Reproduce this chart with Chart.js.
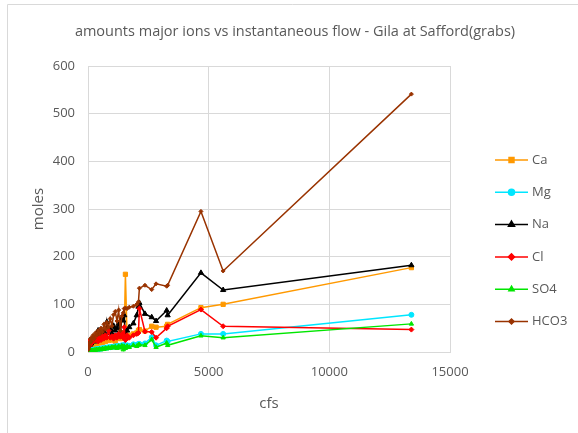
<!DOCTYPE html>
<html>
<head>
<meta charset="utf-8">
<script src="https://cdn.jsdelivr.net/npm/chart.js@4"></script>
<style>
  html, body { margin: 0; padding: 0; background: #fff; }
  #wrap { width: 578px; height: 433px; position: relative; }
</style>
</head>
<body>
<div id="wrap"><canvas id="ionChart" width="578" height="433"></canvas></div>
<script>
// instantaneous flow (cfs) of each grab sample
const cfs = [15, 40, 70, 100, 130, 170, 210, 260, 310, 360, 420, 480, 540, 600, 660, 720, 780, 850, 920, 990,
  1060, 1130, 1200, 1270, 1340, 1400, 1460, 1500, 1550, 1620, 1710, 1880, 2020, 2090, 2130, 2360, 2640, 2820,
  3260, 3300, 4680, 5600, 13400];

// moles per sample
const ca = [2, 5, 8, 10, 12, 14, 15, 16, 18, 17, 20, 19, 22, 20, 24, 22, 26, 24, 28, 25,
  30, 22, 30, 32, 28, 35, 40, 35, 163, 30, 35, 38, 40, 45, 47, 44, 54, 52,
  54, 58, 93, 100, 177];
const mg = [0.5, 1, 2, 3, 3, 4, 4, 5, 5, 6, 6, 7, 7, 8, 8, 9, 9, 10, 10, 11,
  11, 12, 12, 13, 12, 14, 13, 15, 10, 14, 13, 16, 15, 17, 17, 18, 31, 14,
  24, 22, 38, 38, 78];
const na = [3, 8, 15, 20, 18, 25, 28, 22, 30, 26, 45, 32, 38, 30, 42, 35, 63, 40, 48, 38,
  55, 45, 50, 60, 40, 70, 66, 77, 30, 45, 52, 60, 77, 95, 103, 80, 73, 65,
  87, 77, 166, 130, 182];
const cl = [3, 12, 20, 25, 18, 28, 22, 30, 25, 28, 22, 30, 25, 33, 28, 35, 30, 45, 30, 33,
  28, 35, 30, 38, 32, 40, 30, 52, 25, 35, 30, 35, 38, 40, 91, 43, 42, 30,
  50, 54, 89, 54, 47];
const so4 = [0.5, 1, 1.5, 2, 2.5, 3, 3, 4, 4, 5, 5, 6, 5, 7, 6, 8, 7, 9, 8, 10,
  9, 11, 8, 12, 9, 13, 5, 12, 8, 12, 10, 14, 12, 15, 15, 14, 26, 10,
  19, 14, 34, 30, 59];
const hco3 = [5, 12, 20, 28, 22, 30, 35, 28, 40, 35, 45, 38, 50, 42, 58, 48, 62, 52, 70, 55,
  78, 85, 65, 88, 45, 75, 82, 91, 92, 91, 94, 96, 100, 105, 134, 140, 131, 143,
  138, 140, 295, 170, 541];

const xTicks = [0, 5000, 10000, 15000];
const yTicks = [0, 100, 200, 300, 400, 500, 600];

const seriesNames = ['Ca', 'Mg', 'Na', 'Cl', 'SO4', 'HCO3'];
const seriesValues = [ca, mg, na, cl, so4, hco3];
const seriesColors = ['#ff9900', '#00e6ff', '#000000', '#ff0000', '#00e600', '#993300'];
const seriesMarkers = ['rect', 'circle', 'triangle', 'rectRot', 'triangle', 'rectRot'];
const markerSizes = [3, 2.5, 3, 2.5, 2.5, 2];

const fontFamily = "'Open Sans', 'Liberation Sans', sans-serif";
const textColor = '#595959';

function toPoints(vals) {
    return cfs.map((x, i) => ({ x: x, y: vals[i] }));
}

// draws the title, outer frame and the line+marker legend on the right
const decorPlugin = {
    id: 'decor',
    afterDraw(chart) {
        const ctx = chart.ctx;
        ctx.save();
        ctx.strokeStyle = '#d9d9d9';
        ctx.lineWidth = 1;
        ctx.beginPath();
        ctx.moveTo(7.5, 433);
        ctx.lineTo(7.5, 4.5);
        ctx.lineTo(578, 4.5);
        ctx.stroke();

        ctx.fillStyle = textColor;
        ctx.font = "14.5px " + fontFamily;
        ctx.textAlign = 'center';
        ctx.textBaseline = 'middle';
        ctx.fillText('amounts major ions vs instantaneous flow - Gila at Safford(grabs)', 295, 32);

        ctx.font = "13px " + fontFamily;
        ctx.textAlign = 'left';
        chart.data.datasets.forEach((ds, i) => {
            const y = 160 + i * 32.3;
            ctx.strokeStyle = ds.borderColor;
            ctx.lineWidth = 1.5;
            ctx.beginPath();
            ctx.moveTo(495, y);
            ctx.lineTo(528, y);
            ctx.stroke();
            ctx.fillStyle = ds.backgroundColor;
            Chart.helpers.drawPoint(ctx, {
                pointStyle: ds.pointStyle,
                radius: ds.pointRadius + 0.5,
                borderWidth: 1
            }, 511.5, y);
            ctx.fillStyle = textColor;
            ctx.fillText(ds.label, 532, y);
        });
        ctx.restore();
    }
};

// later series drawn on top, like the original spreadsheet chart
const datasets = seriesNames.map((name, i) => ({
    label: name,
    data: toPoints(seriesValues[i]),
    order: seriesNames.length - i,
    showLine: true,
    borderColor: seriesColors[i],
    backgroundColor: seriesColors[i],
    borderWidth: 1.5,
    pointStyle: seriesMarkers[i],
    pointRadius: markerSizes[i],
    pointBorderWidth: 1,
    tension: 0
}));

new Chart(document.getElementById('ionChart').getContext('2d'), {
    type: 'scatter',
    data: { datasets: datasets },
    options: {
        responsive: false,
        animation: false,
        layout: { padding: { top: 66, right: 128, left: 26, bottom: 16 } },
        plugins: {
            legend: { display: false },
            title: { display: false },
            tooltip: { enabled: false }
        },
        scales: {
            x: {
                type: 'linear',
                min: 0,
                max: 15000,
                afterFit(scale) { scale.height = 65; },
                afterBuildTicks(scale) { scale.ticks = xTicks.map(v => ({ value: v })); },
                grid: { color: '#d9d9d9', drawTicks: false },
                border: { color: '#d9d9d9' },
                ticks: {
                    color: textColor,
                    font: { family: fontFamily, size: 13 },
                    padding: 12,
                    maxRotation: 0,
                    callback: v => String(v)
                },
                title: {
                    display: true,
                    text: 'cfs',
                    color: textColor,
                    font: { family: fontFamily, size: 15 },
                    padding: { top: 8 }
                }
            },
            y: {
                min: 0,
                max: 600,
                afterFit(scale) { scale.width = 62; },
                afterBuildTicks(scale) { scale.ticks = yTicks.map(v => ({ value: v })); },
                grid: { color: '#d9d9d9', drawTicks: false },
                border: { color: '#d9d9d9' },
                ticks: {
                    color: textColor,
                    font: { family: fontFamily, size: 13 },
                    padding: 13,
                    callback: v => String(v)
                },
                title: {
                    display: true,
                    text: 'moles',
                    color: textColor,
                    font: { family: fontFamily, size: 15 },
                    padding: { bottom: 6 }
                }
            }
        }
    },
    plugins: [decorPlugin]
});
</script>
</body>
</html>
